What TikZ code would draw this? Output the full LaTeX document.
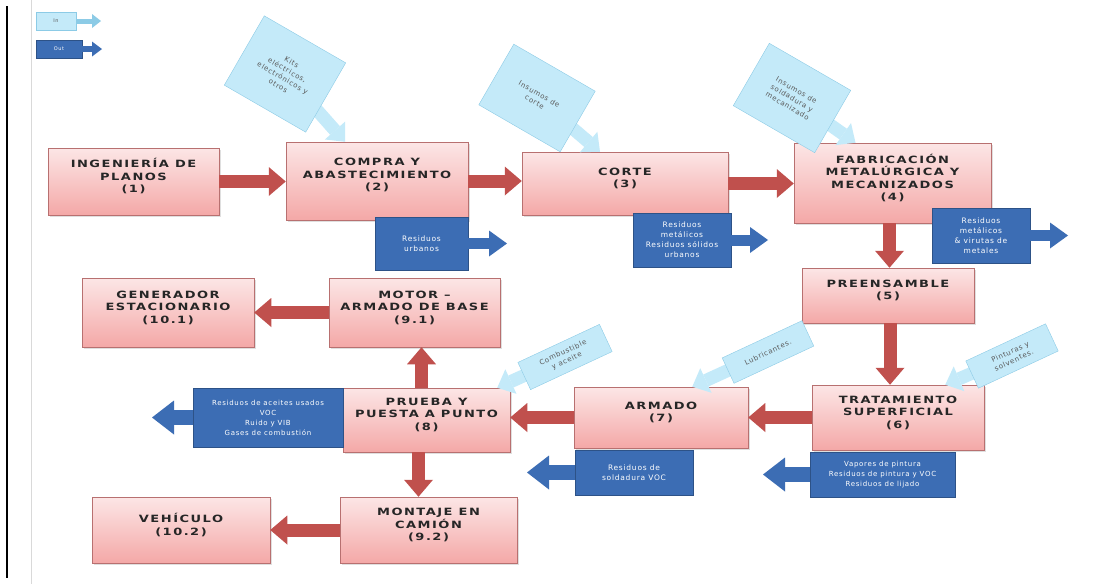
\documentclass[tikz,border=0pt]{standalone}
\usepackage{fontspec}
\usepackage{xcolor}
\usepackage{tikz}
\usetikzlibrary{positioning,shapes,arrows.meta,shadows}

\setmainfont{DejaVu Sans}
\newfontfamily\boxfont[FakeStretch=1.3,LetterSpace=15]{DejaVu Sans}
\newfontfamily\smallfont[LetterSpace=10]{DejaVu Sans}

\definecolor{flowred}{HTML}{C0504D}
\definecolor{outblue}{HTML}{3C6DB4}
\definecolor{callfill}{HTML}{C4EAF9}
\definecolor{callline}{HTML}{8CCBE6}
\definecolor{boxtop}{HTML}{FCE6E6}
\definecolor{boxbot}{HTML}{F4A8A7}
\definecolor{boxline}{HTML}{B87070}

\tikzset{
  procbox/.style={rectangle, draw=boxline, line width=.5pt, top color=boxtop,
    bottom color=boxbot, inner sep=0pt,
    drop shadow={shadow xshift=2pt, shadow yshift=-2pt, opacity=.25}},
  proctext/.style={font=\boxfont\bfseries\fontsize{10}{12.5}\selectfont,
    align=center, text=black!85, inner sep=0pt},
  outbox/.style={rectangle, draw=outblue!75!black, fill=outblue, text=white,
    font=\smallfont\fontsize{7.5}{10}\selectfont, align=center, inner sep=0pt},
  callbox/.style={rectangle, draw=callline, fill=callfill, text=black!65,
    font=\smallfont\fontsize{7}{9}\selectfont, align=center, inner sep=0pt},
  flowarrow/.style={draw=flowred, line width=13pt,
    -{Triangle[length=17pt,width=29pt,line width=0pt]}},
  outarrow/.style={draw=outblue, line width=11pt,
    -{Triangle[length=18pt,width=26pt,line width=0pt]}},
  outarrowleft/.style={draw=outblue, line width=15pt,
    -{Triangle[length=22pt,width=34pt,line width=0pt]}},
  inarrow/.style={draw=callfill, line width=13pt,
    -{Triangle[length=15pt,width=27pt,line width=0pt]}},
}

\begin{document}
\begin{tikzpicture}[x=1pt,y=-1pt]
\useasboundingbox (0,0) rectangle (1120,584);
\fill[white] (0,0) rectangle (1120,584);
\draw[line width=2.5pt] (7,6) -- (7,578);
\draw[gray!30, line width=.6pt] (31,0) -- (31,584);

% process steps
\node[procbox, minimum width=171pt, minimum height=67pt] (ing) at (133.5,181.5) {};
\node[proctext] (ing-t) at ([yshift=5pt]ing.center) {INGENIERÍA DE\\PLANOS\\(1)};
\node[procbox, minimum width=182pt, minimum height=78pt] (compra) at (377,181) {};
\node[proctext] (compra-t) at ([yshift=6pt]compra.center) {COMPRA Y\\ABASTECIMIENTO\\(2)};
\node[procbox, minimum width=206pt, minimum height=63pt] (corte) at (625,183.5) {};
\node[proctext] (corte-t) at ([yshift=5pt]corte.center) {CORTE\\(3)};
\node[procbox, minimum width=197pt, minimum height=80pt] (fab) at (892.5,183) {};
\node[proctext] (fab-t) at ([yshift=5pt]fab.center) {FABRICACIÓN\\METALÚRGICA Y\\MECANIZADOS\\(4)};
\node[procbox, minimum width=172pt, minimum height=55pt] (pre) at (888,295.5) {};
\node[proctext] (pre-t) at ([yshift=5pt]pre.center) {PREENSAMBLE\\(5)};
\node[procbox, minimum width=172pt, minimum height=65pt] (trat) at (898,417.5) {};
\node[proctext] (trat-t) at ([yshift=5pt]trat.center) {TRATAMIENTO\\SUPERFICIAL\\(6)};
\node[procbox, minimum width=174pt, minimum height=61pt] (armado) at (661,417.5) {};
\node[proctext] (armado-t) at ([yshift=5pt]armado.center) {ARMADO\\(7)};
\node[procbox, minimum width=167pt, minimum height=64pt] (prueba) at (426.5,420) {};
\node[proctext] (prueba-t) at ([yshift=5pt]prueba.center) {PRUEBA Y\\PUESTA A PUNTO\\(8)};
\node[procbox, minimum width=171pt, minimum height=69pt] (motor) at (414.5,312.5) {};
\node[proctext] (motor-t) at ([yshift=5pt]motor.center) {MOTOR –\\ARMADO DE BASE\\(9.1)};
\node[procbox, minimum width=172pt, minimum height=69pt] (gen) at (168,312.5) {};
\node[proctext] (gen-t) at ([yshift=5pt]gen.center) {GENERADOR\\ESTACIONARIO\\(10.1)};
\node[procbox, minimum width=177pt, minimum height=66pt] (montaje) at (428.5,530) {};
\node[proctext] (montaje-t) at ([yshift=5pt]montaje.center) {MONTAJE EN\\CAMIÓN\\(9.2)};
\node[procbox, minimum width=178pt, minimum height=66pt] (vehiculo) at (181,530) {};
\node[proctext] (vehiculo-t) at ([yshift=5pt]vehiculo.center) {VEHÍCULO\\(10.2)};

% flow
\draw[flowarrow] (ing.east) -- (ing.east -| compra.west);
\draw[flowarrow] (compra.east) -- (compra.east -| corte.west);
\draw[flowarrow] (corte.east) -- (corte.east -| fab.west);
\draw[flowarrow] ([xshift=-3pt]fab.south) -- ([xshift=-3pt]fab.south |- pre.north);
\draw[flowarrow] ([xshift=-8pt]trat.north |- pre.south) -- ([xshift=-8pt]trat.north);
\draw[flowarrow] (trat.west) -- (trat.west -| armado.east);
\draw[flowarrow] (armado.west) -- (armado.west -| prueba.east);
\draw[flowarrow] ([xshift=-5pt]prueba.north) -- ([xshift=-5pt]prueba.north |- motor.south);
\draw[flowarrow] ([xshift=-8pt]prueba.south) -- ([xshift=-8pt]prueba.south |- montaje.north);
\draw[flowarrow] (motor.west) -- (motor.west -| gen.east);
\draw[flowarrow] (montaje.west) -- (montaje.west -| vehiculo.east);

% inputs
\coordinate (c2-pos) at (285,74);
\draw[inarrow] (c2-pos) -- ([xshift=-32pt]compra.north);
\node[callbox, rotate=-30, minimum width=94pt, minimum height=80pt] (c2) at (c2-pos)
  {Kits\\eléctricos,\\electrónicos y\\otros};
\coordinate (c3-pos) at (537,98);
\draw[inarrow] (c3-pos) -- ([xshift=-25pt]corte.north);
\node[callbox, rotate=-30, minimum width=94pt, minimum height=70pt] (c3) at (c3-pos)
  {Insumos de\\corte};
\coordinate (c4-pos) at (792,98);
\draw[inarrow] (c4-pos) -- ([xshift=-37pt]fab.north);
\node[callbox, rotate=-30, minimum width=94pt, minimum height=72pt] (c4) at (c4-pos)
  {Insumos de\\soldadura y\\mecanizado};
\coordinate (c8-pos) at (565,357);
\draw[inarrow] (c8-pos) -- ([xshift=-13pt]prueba.north east);
\node[callbox, rotate=25, minimum width=90pt, minimum height=30pt] (c8) at (c8-pos)
  {Combustible\\y aceite};
\coordinate (c7-pos) at (768,352);
\draw[inarrow] (c7-pos) -- ([xshift=-56pt]armado.north east);
\node[callbox, rotate=25, minimum width=88pt, minimum height=28pt] (c7) at (c7-pos)
  {Lubricantes.};
\coordinate (c6-pos) at (1012,356);
\draw[inarrow] (c6-pos) -- ([xshift=-39pt]trat.north east);
\node[callbox, rotate=25, minimum width=88pt, minimum height=30pt] (c6) at (c6-pos)
  {Pinturas y\\solventes.};

% outputs
\node[outbox, minimum width=93pt, minimum height=53pt] (o2) at (421.5,243.5) {Residuos\\urbanos};
\coordinate (o2-end) at (507,243.5);
\draw[outarrow] (o2.east) -- (o2-end);
\node[outbox, minimum width=98pt, minimum height=54pt] (o3) at (682,240)
  {Residuos\\metálicos\\Residuos sólidos\\urbanos};
\coordinate (o3-end) at (768,240);
\draw[outarrow] (o3.east) -- (o3-end);
\node[outbox, minimum width=98pt, minimum height=55pt] (o4) at (981,235.5)
  {Residuos\\metálicos\\\& virutas de\\metales};
\coordinate (o4-end) at (1068,235.5);
\draw[outarrow] (o4.east) -- (o4-end);
\node[outbox, minimum width=150pt, minimum height=59pt, font=\smallfont\fontsize{7}{10}\selectfont] (o8) at (268,417.5)
  {Residuos de aceites usados\\VOC\\Ruido y VIB\\Gases de combustión};
\coordinate (o8-end) at (152,417.5);
\draw[outarrowleft] (o8.west) -- (o8-end);
\node[outbox, minimum width=118pt, minimum height=45pt] (o7) at (634,472.5)
  {Residuos de\\soldadura VOC};
\coordinate (o7-end) at (527,472.5);
\draw[outarrowleft] (o7.west) -- (o7-end);
\node[outbox, minimum width=145pt, minimum height=45pt, font=\smallfont\fontsize{7}{10}\selectfont] (o6) at (882.5,474.5)
  {Vapores de pintura\\Residuos de pintura y VOC\\Residuos de lijado};
\coordinate (o6-end) at (763,474.5);
\draw[outarrowleft] (o6.west) -- (o6-end);

% legend
\node[callbox, minimum width=40pt, minimum height=18pt, font=\smallfont\fontsize{5}{6}\selectfont] (lgin) at (56,21) {In};
\coordinate (lgin-end) at (101,21);
\draw[draw=callline, line width=5pt, -{Triangle[length=9pt,width=14pt,line width=0pt]}] (lgin.east) -- (lgin-end);
\node[outbox, minimum width=46pt, minimum height=18pt, font=\smallfont\fontsize{5}{6}\selectfont] (lgout) at (59,49) {Out};
\coordinate (lgout-end) at (102,49);
\draw[outarrow, line width=6pt, -{Triangle[length=10pt,width=15pt,line width=0pt]}] (lgout.east) -- (lgout-end);
\end{tikzpicture}
\end{document}
